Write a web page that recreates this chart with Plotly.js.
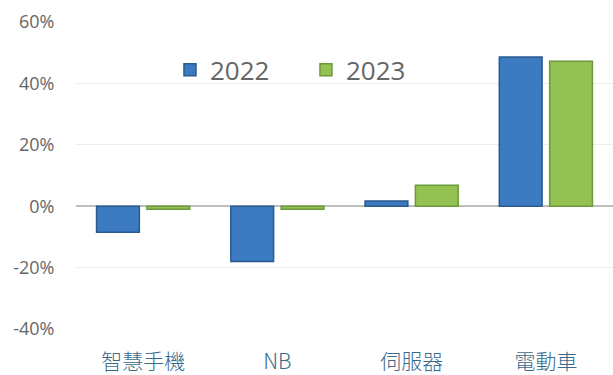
<!DOCTYPE html>
<html><head><meta charset="utf-8">
<script src="https://cdn.plot.ly/plotly-3.0.1.min.js"></script>
<style>body{margin:0;background:#fff}#c{width:613px;height:375px}</style>
</head><body><div id="c"></div>
<script>
const categories = ['智慧手機', 'NB', '伺服器', '電動車'];
const series2022 = [-8.5, -18, 1.7, 48.6];
const series2023 = [-1, -1, 6.8, 47.2];
const seriesNames = ['2022', '2023'];
const yTickVals = [-40, -20, 0, 20, 40, 60];
const yTickText = ['-40%', '-20%', '0%', '20%', '40%', '60%'];

const traces = [
  {type:'bar', name:seriesNames[0], x:categories, y:series2022,
   marker:{color:'#3C7BC2', line:{color:'#2B5A8E', width:1.5}}},
  {type:'bar', name:seriesNames[1], x:categories, y:series2023,
   marker:{color:'#93C152', line:{color:'#6C9A3A', width:1.5}}}
];
const layout = {
  width:613, height:375,
  margin:{l:76, r:0, t:22, b:46},
  paper_bgcolor:'#fff', plot_bgcolor:'#fff',
  barmode:'group', bargap:0.25, bargroupgap:0.15,
  font:{family:'"Open Sans", "Noto Sans CJK TC", sans-serif', color:'#666666'},
  xaxis:{type:'category', showgrid:false, zeroline:false, showline:false,
    ticks:'outside', ticklen:14, tickcolor:'rgba(0,0,0,0)',
    tickfont:{family:'"Noto Sans CJK TC", sans-serif', size:21, weight:300, color:'#3A6A8A'}},
  yaxis:{range:[-40, 60], tickvals:yTickVals, ticktext:yTickText,
    showgrid:true, gridcolor:'#EDEDED', gridwidth:1,
    zeroline:true, zerolinecolor:'#BFBFBF', zerolinewidth:1.5,
    ticks:'outside', ticklen:17, tickcolor:'rgba(0,0,0,0)',
    tickfont:{size:18, color:'#666666'}},
  legend:{orientation:'h', x:0.175, y:0.844, xanchor:'left', yanchor:'middle',
    font:{size:26, color:'#666666'}, bgcolor:'rgba(0,0,0,0)', entrywidth:91},
  showlegend:true
};
Plotly.newPlot('c', traces, layout, {displayModeBar:false, staticPlot:true});
</script></body></html>
